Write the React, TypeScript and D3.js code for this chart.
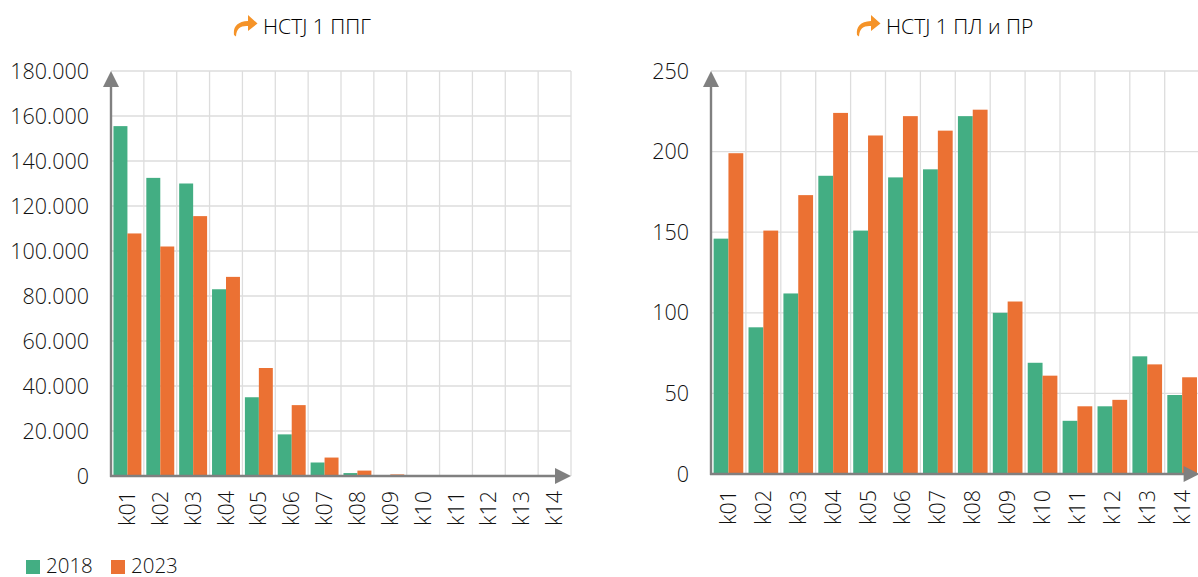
import React from "react";
import * as d3 from "d3";

const categories = ["k01","k02","k03","k04","k05","k06","k07","k08","k09","k10","k11","k12","k13","k14"];
const left2018 = [155500,132500,130000,83000,35000,18500,6000,1300,100,0,0,0,0,0];
const left2023 = [107800,102000,115500,88500,48000,31500,8200,2400,700,100,0,0,0,0];
const right2018 = [146,91,112,185,151,184,189,222,100,69,33,42,73,49];
const right2023 = [199,151,173,224,210,222,213,226,107,61,42,46,68,60];
const leftTicks = [0,20000,40000,60000,80000,100000,120000,140000,160000,180000];
const rightTicks = [0,50,100,150,200,250];
const seriesNames = ["2018","2023"];
const GREEN = "#43AE83";
const ORANGE = "#EB7133";
const FONT = "'Open Sans', sans-serif";
const fmt = (v: number) => d3.format(",")(v).replace(/,/g, ".");

function Arrow({ x, y }: { x: number; y: number }) {
  return (
    <path transform={`translate(${x},${y})`} fill="#F59328"
      d="M1 20 C0 12 4 6.5 15 6 L15 0 L24.5 8.5 L15 16 L15 11 C8 10.5 3.5 13 3 21.5 Z" />
  );
}

function Panel({ title, titleX, arrowX, a, b, ticks, max, x0, x1, y0, y1, labelRight, catOffset }: any) {
  const x = d3.scaleBand<string>().domain(categories).range([x0, x1]).paddingInner(0.15).paddingOuter(0.075);
  const step = (x1 - x0) / categories.length;
  const y = d3.scaleLinear().domain([0, max]).range([y0, y1]);
  const w = x.bandwidth() / 2;
  return (
    <g>
      <Arrow x={arrowX} y={15} />
      <text x={titleX} y={34} fontSize={21} fontWeight={300} fontFamily={FONT} fill="#000">{title}</text>
      {ticks.map((t: number) => (
        <g key={t}>
          {t > 0 && <line x1={x0} x2={x1} y1={y(t)} y2={y(t)} stroke="#DDDDDD" strokeWidth={1.3} />}
          <text x={labelRight} y={y(t) + 7.5} textAnchor="end" fontSize={21.5} fontWeight={300} fontFamily={FONT} fill="#111">{fmt(t)}</text>
        </g>
      ))}
      {categories.map((_, i) => (
        <line key={i} x1={x0 + step * (i + 1)} x2={x0 + step * (i + 1)} y1={y1} y2={y0} stroke="#DDDDDD" strokeWidth={1.3} />
      ))}
      {categories.map((c, i) => (
        <g key={c}>
          <rect x={x(c)!} width={w} y={y(a[i])} height={y0 - y(a[i])} fill={GREEN} />
          <rect x={x(c)! + w} width={w} y={y(b[i])} height={y0 - y(b[i])} fill={ORANGE} />
          <text transform={`translate(${x(c)! + w + 7.5},${y0 + catOffset}) rotate(-90)`} fontSize={21.5} fontWeight={300} fontFamily={FONT} fill="#111">{c}</text>
        </g>
      ))}
      <line x1={x0} x2={x0} y1={y0 + 1} y2={y1 + 14} stroke="#808080" strokeWidth={2.4} />
      <path d={`M${x0 - 8} ${y1 + 16} L${x0} ${y1} L${x0 + 8} ${y1 + 16} Z`} fill="#808080" />
      <line x1={x0 - 1} x2={x1 - 14} y1={y0} y2={y0} stroke="#808080" strokeWidth={2.4} />
      <path d={`M${x1 - 16} ${y0 - 8} L${x1} ${y0} L${x1 - 16} ${y0 + 8} Z`} fill="#808080" />
    </g>
  );
}

export default function App() {
  return (
    <svg width={1198} height={577} style={{ position: "absolute", left: 0, top: 0, background: "#fff" }}>
      <Panel title="НСТЈ 1 ППГ" titleX={263} arrowX={233} a={left2018} b={left2023} ticks={leftTicks} max={180000}
        x0={111} x1={571} y0={476} y1={71} labelRight={89} catOffset={50} />
      <Panel title="НСТЈ 1 ПЛ и ПР" titleX={886} arrowX={856} a={right2018} b={right2023} ticks={rightTicks} max={250}
        x0={711} x1={1199.6} y0={474} y1={71} labelRight={689} catOffset={51} />
      {seriesNames.map((s, i) => (
        <g key={s}>
          <rect x={26 + i * 85} y={560} width={14} height={14} fill={i ? ORANGE : GREEN} />
          <text x={46 + i * 85} y={572.5} fontSize={20.5} fontWeight={300} fontFamily={FONT} fill="#111">{s}</text>
        </g>
      ))}
    </svg>
  );
}
